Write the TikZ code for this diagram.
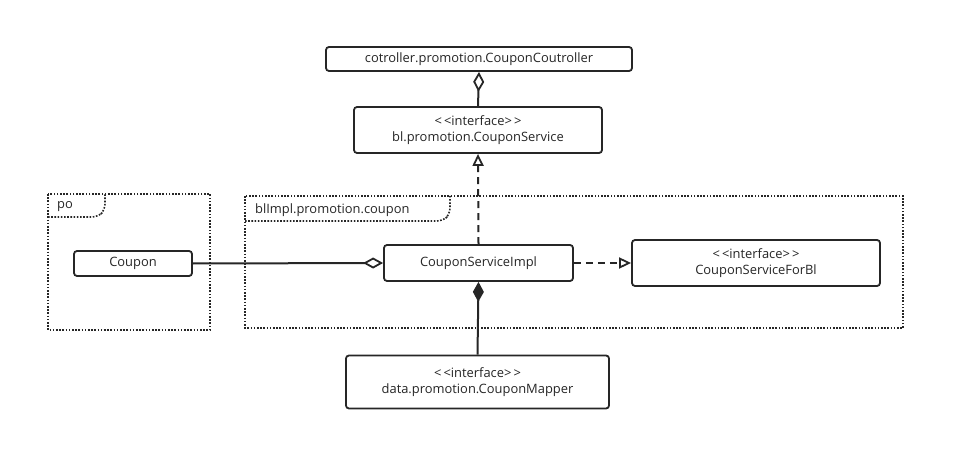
\documentclass[tikz,border=0pt]{standalone}
\usepackage{fontspec}
\setmainfont{Open Sans}
\usetikzlibrary{arrows.meta}
\newcommand{\stereo}[1]{{<}\,{<}#1{>}\,{>}}
\begin{document}
\begin{tikzpicture}[x=1pt,y=-1pt,
  cls/.style={draw=black!85,line width=1.8pt,rounded corners=3pt,fill=white,inner sep=0pt,font=\fontsize{12.9}{16}\selectfont,text=black!85,align=center},
  pkg/.style={draw=black!85,line width=1.6pt,dash pattern=on 1.6pt off 1.6pt},
  conn/.style={draw=black!85,line width=2pt},
  dconn/.style={conn,dash pattern=on 7pt off 5pt},
  aggr/.style={conn,-{Diamond[open,length=20pt,width=11pt,line width=1.8pt,sep=0pt]}},
  comp/.style={conn,-{Diamond[length=20pt,width=11pt]}},
  real/.style={dconn,-{Triangle[open,length=12pt,width=11pt,line width=1.8pt]}},
  lbl/.style={font=\fontsize{12.9}{16}\selectfont,text=black!85,anchor=west,inner sep=0pt}
]
\useasboundingbox (0,0) rectangle (965,470);
% packages
\draw[pkg] (48,194) rectangle (210,330);
\draw[pkg,rounded corners=6pt] (48,217) -- (98,217) -- (105,210) [sharp corners]-- (105,194);
\node[lbl] (popkg) at (57,207) {po};
\draw[pkg] (245,196) rectangle (903,328);
\draw[pkg,rounded corners=6pt] (245,221) -- (443,221) -- (450,214) [sharp corners]-- (450,196);
\node[lbl] (blpkg) at (255,210) {blImpl.promotion.coupon};
% classes
\node[cls,minimum width=306pt,minimum height=24pt] (ctrl) at (479,59) {cotroller.promotion.CouponCoutroller};
\node[cls,minimum width=248pt,minimum height=46pt] (svc) at (478,130) {\stereo{interface}\\bl.promotion.CouponService};
\node[cls,minimum width=118pt,minimum height=25pt] (coupon) at (133,263.5) {Coupon};
\node[cls,minimum width=189pt,minimum height=36pt] (impl) at (478.5,263) {CouponServiceImpl};
\node[cls,minimum width=248pt,minimum height=46pt] (forbl) at (756,263) {\stereo{interface}\\CouponServiceForBl};
\node[cls,minimum width=263pt,minimum height=53pt] (mapper) at (477.5,382) {\stereo{interface}\\data.promotion.CouponMapper};
% connectors
\draw[aggr] (svc.north) -- (ctrl.south);
\draw[real] (impl.north) -- (svc.south);
\draw[aggr] (coupon.east) -- (impl.west);
\draw[real] (impl.east) -- (forbl.west);
\draw[comp] (mapper.north) -- (impl.south);
\end{tikzpicture}
\end{document}
